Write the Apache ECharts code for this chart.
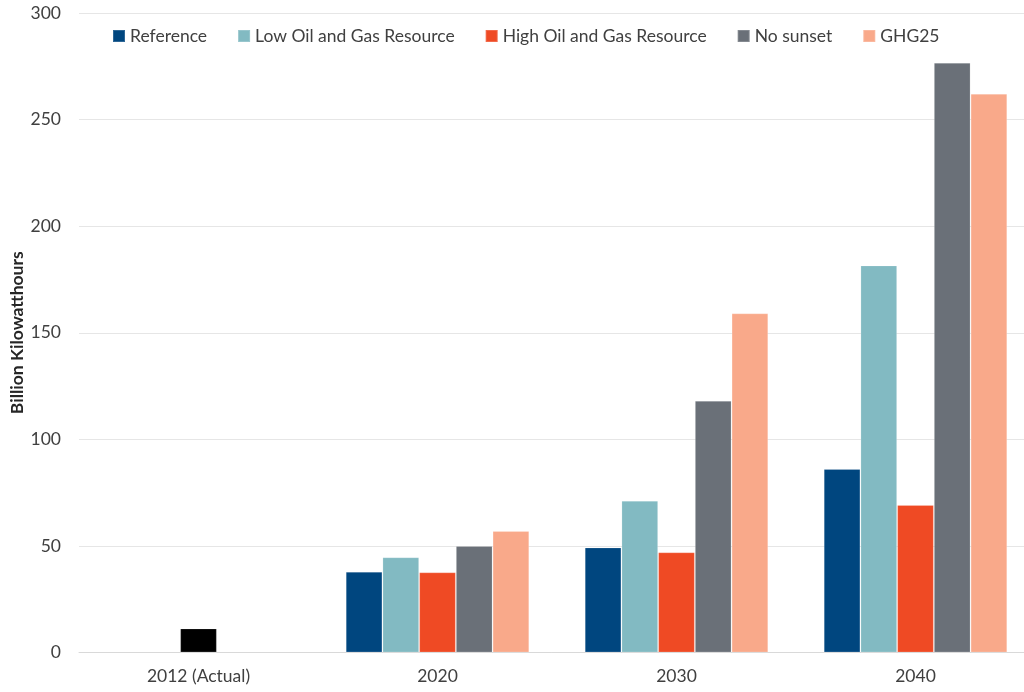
<!DOCTYPE html>
<html>
<head>
<meta charset="utf-8">
<script src="https://cdn.jsdelivr.net/npm/echarts@6/dist/echarts.min.js"></script>
<style>
  html, body { margin: 0; padding: 0; background: #ffffff; }
  #chart { width: 1024px; height: 692px; }
</style>
</head>
<body>
<div id="chart"></div>
<script>
// Electricity generation by scenario, billion kilowatthours
const categories = ['2012 (Actual)', '2020', '2030', '2040'];
const actual2012 = 11.3;
const reference = [null, 37.9, 49.3, 86.1];
const lowOilGas = [null, 44.7, 71.2, 181.6];
const highOilGas = [null, 37.6, 47.0, 69.2];
const noSunset = [null, 50.0, 118.1, 276.7];
const ghg25 = [null, 57.0, 159.1, 262.1];
const yTicks = { min: 0, max: 300, interval: 50 };

const seriesNames = ['Reference', 'Low Oil and Gas Resource', 'High Oil and Gas Resource', 'No sunset', 'GHG25'];
const seriesColors = ['#00467f', '#82bac2', '#ef4a24', '#6a7078', '#f9a98a'];
const seriesValues = [reference, lowOilGas, highOilGas, noSunset, ghg25];

const FONT = 'Lato, "Open Sans", "Noto Sans", sans-serif';

function toData(values, idx) {
  return values.map(function (v, i) {
    // the historical 2012 value sits in the centre slot, drawn in black
    if (i === 0 && idx === 2) {
      return { value: actual2012, itemStyle: { color: '#000000' } };
    }
    return v === null ? '-' : v;
  });
}

const chart = echarts.init(document.getElementById('chart'), null, { renderer: 'canvas' });
chart.setOption({
  animation: false,
  textStyle: { fontFamily: FONT },
  color: seriesColors,
  legend: {
    left: 107,
    top: 22,
    itemWidth: 12,
    itemHeight: 12,
    itemGap: 30,
    icon: 'rect',
    textStyle: { fontFamily: FONT, fontSize: 17.5, color: '#404040' },
    data: seriesNames
  },
  grid: {
    left: 79, top: 13, width: 956, height: 639.5,
    containLabel: false,
    outerBoundsMode: 'none'
  },
  xAxis: {
    type: 'category',
    data: categories,
    axisTick: { show: false },
    axisLine: { lineStyle: { color: '#d9d9d9', width: 1 } },
    axisLabel: { fontFamily: FONT, fontSize: 17.5, color: '#404040', margin: 15 }
  },
  yAxis: {
    type: 'value',
    min: yTicks.min,
    max: yTicks.max,
    interval: yTicks.interval,
    name: 'Billion Kilowatthours',
    nameLocation: 'middle',
    nameGap: 53,
    nameMoveOverlap: false,
    nameTextStyle: { fontFamily: FONT, fontSize: 17.5, fontWeight: 'bold', color: '#262626' },
    axisLine: { show: false },
    axisTick: { show: false },
    axisLabel: { fontFamily: FONT, fontSize: 17.5, color: '#404040', margin: 18 },
    splitLine: { lineStyle: { color: '#e6e6e6', width: 1 } }
  },
  series: seriesNames.map(function (name, idx) {
    return {
      name: name,
      type: 'bar',
      data: toData(seriesValues[idx], idx),
      barGap: '0%',
      barCategoryGap: '23.2%',
      itemStyle: { color: seriesColors[idx], borderColor: 'rgba(255,255,255,0.18)', borderWidth: 1 }
    };
  })
});
</script>
</body>
</html>
